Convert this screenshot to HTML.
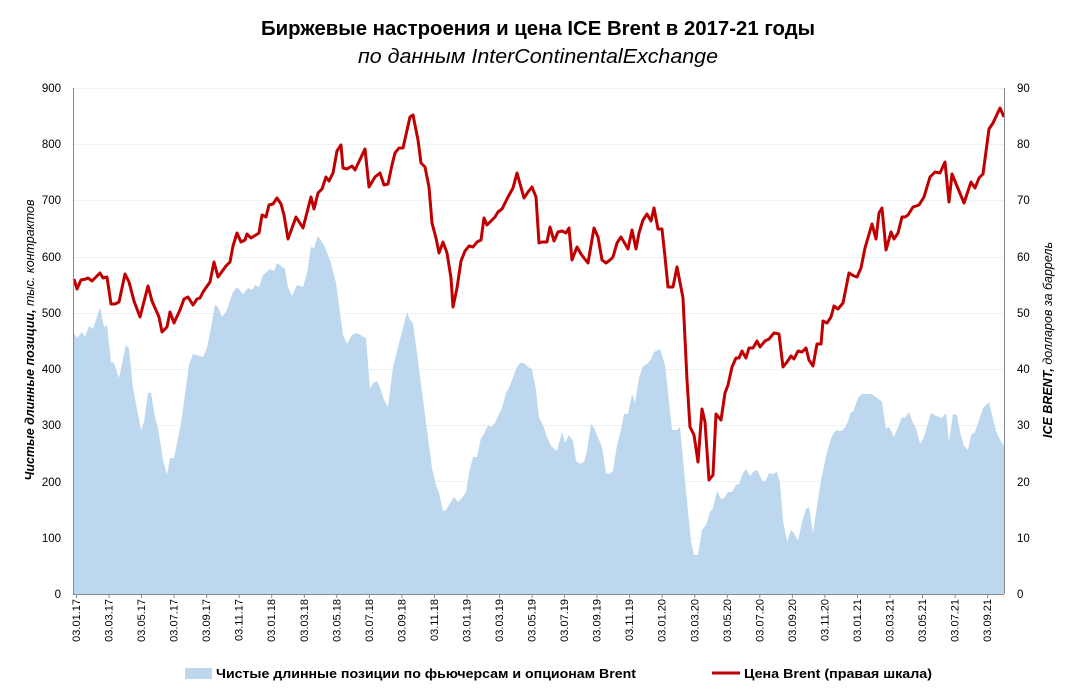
<!DOCTYPE html>
<html><head><meta charset="utf-8"><style>
html,body{margin:0;padding:0;background:#fff;}
svg{display:block;font-family:"Liberation Sans",sans-serif;}
</style></head><body>
<svg width="1077" height="700" viewBox="0 0 1077 700" xmlns="http://www.w3.org/2000/svg">
<rect width="1077" height="700" fill="#fff"/>
<text x="538" y="35" text-anchor="middle" font-size="20" font-weight="bold" textLength="554" lengthAdjust="spacingAndGlyphs">Биржевые настроения и цена ICE Brent в 2017-21 годы</text>
<text x="538" y="63" text-anchor="middle" font-size="20" font-style="italic" textLength="360" lengthAdjust="spacingAndGlyphs">по данным InterContinentalExchange</text>
<g stroke="#eef2f7" stroke-width="1">
<line x1="73" x2="1004" y1="88.5" y2="88.5"/><line x1="73" x2="1004" y1="144.5" y2="144.5"/><line x1="73" x2="1004" y1="200.5" y2="200.5"/><line x1="73" x2="1004" y1="257.5" y2="257.5"/><line x1="73" x2="1004" y1="313.5" y2="313.5"/><line x1="73" x2="1004" y1="369.5" y2="369.5"/><line x1="73" x2="1004" y1="425.5" y2="425.5"/><line x1="73" x2="1004" y1="481.5" y2="481.5"/><line x1="73" x2="1004" y1="538.5" y2="538.5"/>
</g>
<polygon fill="#bdd7ee" points="74,594 74,333 77,338 82,332 85,337 89,326 93,329 100,307 104,327 107,325 111,362 114,363 119,378 126,345 129,349 133,388 141,430 144,422 148,393 151,393 155,417 158,428 163,460 167,475 170,458 174,458 181,423 189,365 193,354 203,357 207,348 211,328 215,305 218,307 222,317 226,312 233,292 237,287 243,294 248,288 252,290 255,285 259,287 263,275 270,269 274,271 277,263 285,269 288,287 292,296 297,285 303,287 307,273 311,247 314,248 318,236 325,247 331,263 336,283 343,335 347,344 352,335 357,333 362,336 366,338 370,389 373,383 377,381 380,388 384,400 388,407 393,367 396,355 407,312 410,320 413,323 422,392 432,468 436,485 439,493 443,511 446,510 454,497 458,502 462,498 466,492 469,473 473,457 477,457 481,438 484,434 488,425 491,427 495,423 502,408 506,393 509,388 517,367 520,363 524,363 528,367 532,369 536,390 539,418 543,425 547,437 551,446 557,451 562,432 565,443 569,435 573,441 576,461 580,464 584,462 587,451 591,424 594,428 602,447 606,473 609,474 613,471 617,445 621,430 624,414 628,414 632,394 635,403 639,378 643,366 647,364 651,359 654,352 660,349 665,365 668,392 672,430 677,430 680,427 684,470 691,542 694,555 698,555 702,530 706,525 710,512 713,508 717,491 721,499 724,498 728,492 732,492 736,485 739,484 742,475 746,469 750,476 754,471 757,470 762,480 765,482 769,473 773,474 777,472 780,483 783,520 787,542 791,530 794,533 798,541 802,522 806,509 809,507 813,533 817,506 821,480 827,452 832,436 836,430 840,431 843,430 847,424 851,412 853,412 858,398 862,394 871,394 876,397 882,402 886,429 889,427 894,437 902,417 905,418 909,412 913,423 916,428 920,444 924,437 931,413 936,416 942,418 946,413 949,442 953,414 957,415 960,432 964,446 968,450 971,435 975,432 978,423 983,408 989,402 992,415 996,431 999,438 1004,446 1004,594"/>
<polyline fill="none" stroke="#c00000" stroke-width="3" stroke-linejoin="round" points="74,279 77,289 81,280 86,279 88,278 92,281 100,273 103,278 107,277 111,304 115,304 119,302 125,274 129,282 134,301 140,317 148,286 152,301 159,317 162,332 167,327 170,312 174,323 180,310 184,299 188,297 193,305 197,299 200,298 203,292 210,282 214,262 218,277 226,266 230,262 233,246 237,233 241,242 245,240 247,234 251,238 259,233 262,215 266,217 269,205 273,204 277,198 281,204 284,215 288,239 296,217 303,228 311,197 314,209 318,193 322,189 326,177 329,181 333,173 337,151 341,145 343,168 347,169 352,166 355,170 365,149 369,187 375,177 380,173 384,185 388,184 392,165 395,153 399,148 403,148 410,117 413,115 418,140 421,163 425,167 429,187 432,223 436,238 439,253 443,242 447,253 451,278 453,307 457,288 461,261 465,251 469,246 473,247 477,242 481,240 484,218 487,225 495,217 498,212 502,209 508,197 513,188 517,173 524,198 528,192 532,187 536,197 539,243 542,242 547,242 550,227 554,241 558,232 562,231 566,233 569,228 572,260 577,247 581,254 584,258 588,263 594,228 598,237 602,260 606,263 610,260 613,257 617,243 621,237 624,242 628,249 632,230 636,249 639,233 643,220 647,214 651,221 654,208 658,229 662,229 665,257 668,287 673,287 677,267 683,298 687,380 690,427 694,435 698,462 702,409 705,422 709,480 713,475 716,414 721,420 725,393 728,385 732,367 736,358 739,358 742,351 746,358 749,348 753,348 757,341 760,347 765,341 769,339 774,333 779,334 783,367 787,362 791,356 794,359 798,351 802,352 806,348 809,360 813,366 817,344 821,344 823,321 827,323 831,317 834,306 838,309 843,303 849,273 854,276 857,277 861,268 865,248 872,224 876,239 879,213 882,208 886,250 891,232 894,239 898,233 902,217 905,217 908,215 913,207 919,205 924,197 930,177 935,172 940,173 945,162 949,202 952,174 964,203 971,182 975,188 979,178 983,174 989,129 993,123 1000,108 1004,117"/>
<g stroke="#888" stroke-width="1">
<line x1="73.5" y1="88" x2="73.5" y2="594"/><line x1="1004.5" y1="88" x2="1004.5" y2="594"/><line x1="73" y1="594.5" x2="1004" y2="594.5"/>
<line x1="76.5" y1="594" x2="76.5" y2="598"/><line x1="109" y1="594" x2="109" y2="598"/><line x1="141.6" y1="594" x2="141.6" y2="598"/><line x1="174.1" y1="594" x2="174.1" y2="598"/><line x1="206.7" y1="594" x2="206.7" y2="598"/><line x1="239.2" y1="594" x2="239.2" y2="598"/><line x1="271.7" y1="594" x2="271.7" y2="598"/><line x1="304.3" y1="594" x2="304.3" y2="598"/><line x1="336.8" y1="594" x2="336.8" y2="598"/><line x1="369.4" y1="594" x2="369.4" y2="598"/><line x1="401.9" y1="594" x2="401.9" y2="598"/><line x1="434.4" y1="594" x2="434.4" y2="598"/><line x1="467" y1="594" x2="467" y2="598"/><line x1="499.5" y1="594" x2="499.5" y2="598"/><line x1="532.1" y1="594" x2="532.1" y2="598"/><line x1="564.6" y1="594" x2="564.6" y2="598"/><line x1="597.1" y1="594" x2="597.1" y2="598"/><line x1="629.7" y1="594" x2="629.7" y2="598"/><line x1="662.2" y1="594" x2="662.2" y2="598"/><line x1="694.8" y1="594" x2="694.8" y2="598"/><line x1="727.3" y1="594" x2="727.3" y2="598"/><line x1="759.8" y1="594" x2="759.8" y2="598"/><line x1="792.4" y1="594" x2="792.4" y2="598"/><line x1="824.9" y1="594" x2="824.9" y2="598"/><line x1="857.5" y1="594" x2="857.5" y2="598"/><line x1="890" y1="594" x2="890" y2="598"/><line x1="922.5" y1="594" x2="922.5" y2="598"/><line x1="955.1" y1="594" x2="955.1" y2="598"/><line x1="987.6" y1="594" x2="987.6" y2="598"/>
</g>
<g font-size="11.5" fill="#000" text-anchor="end">
<text x="61" y="598">0</text><text x="61" y="542">100</text><text x="61" y="486">200</text><text x="61" y="429">300</text><text x="61" y="373">400</text><text x="61" y="317">500</text><text x="61" y="261">600</text><text x="61" y="204">700</text><text x="61" y="148">800</text><text x="61" y="92">900</text>
</g>
<g font-size="11.5" fill="#000" text-anchor="start">
<text x="1017" y="598">0</text><text x="1017" y="542">10</text><text x="1017" y="486">20</text><text x="1017" y="429">30</text><text x="1017" y="373">40</text><text x="1017" y="317">50</text><text x="1017" y="261">60</text><text x="1017" y="204">70</text><text x="1017" y="148">80</text><text x="1017" y="92">90</text>
</g>
<g font-size="11" fill="#000" text-anchor="end">
<text transform="translate(80,599) rotate(-90)">03.01.17</text>
<text transform="translate(112.5,599) rotate(-90)">03.03.17</text>
<text transform="translate(145.1,599) rotate(-90)">03.05.17</text>
<text transform="translate(177.6,599) rotate(-90)">03.07.17</text>
<text transform="translate(210.2,599) rotate(-90)">03.09.17</text>
<text transform="translate(242.7,599) rotate(-90)">03.11.17</text>
<text transform="translate(275.2,599) rotate(-90)">03.01.18</text>
<text transform="translate(307.8,599) rotate(-90)">03.03.18</text>
<text transform="translate(340.3,599) rotate(-90)">03.05.18</text>
<text transform="translate(372.9,599) rotate(-90)">03.07.18</text>
<text transform="translate(405.4,599) rotate(-90)">03.09.18</text>
<text transform="translate(437.9,599) rotate(-90)">03.11.18</text>
<text transform="translate(470.5,599) rotate(-90)">03.01.19</text>
<text transform="translate(503,599) rotate(-90)">03.03.19</text>
<text transform="translate(535.6,599) rotate(-90)">03.05.19</text>
<text transform="translate(568.1,599) rotate(-90)">03.07.19</text>
<text transform="translate(600.6,599) rotate(-90)">03.09.19</text>
<text transform="translate(633.2,599) rotate(-90)">03.11.19</text>
<text transform="translate(665.7,599) rotate(-90)">03.01.20</text>
<text transform="translate(698.3,599) rotate(-90)">03.03.20</text>
<text transform="translate(730.8,599) rotate(-90)">03.05.20</text>
<text transform="translate(763.3,599) rotate(-90)">03.07.20</text>
<text transform="translate(795.9,599) rotate(-90)">03.09.20</text>
<text transform="translate(828.4,599) rotate(-90)">03.11.20</text>
<text transform="translate(861,599) rotate(-90)">03.01.21</text>
<text transform="translate(893.5,599) rotate(-90)">03.03.21</text>
<text transform="translate(926,599) rotate(-90)">03.05.21</text>
<text transform="translate(958.6,599) rotate(-90)">03.07.21</text>
<text transform="translate(991.1,599) rotate(-90)">03.09.21</text>
</g>
<text transform="translate(34,340) rotate(-90)" text-anchor="middle" font-size="12.5" font-style="italic"><tspan font-weight="bold">Чистые длинные позиции,</tspan> тыс. контрактов</text>
<text transform="translate(1052,340) rotate(-90)" text-anchor="middle" font-size="12.5" font-style="italic"><tspan font-weight="bold">ICE BRENT,</tspan> долларов за баррель</text>
<rect x="185" y="668" width="27" height="11" fill="#bdd7ee"/>
<text x="216" y="678" font-size="13" font-weight="bold" textLength="420" lengthAdjust="spacingAndGlyphs">Чистые длинные позиции по фьючерсам и опционам Brent</text>
<line x1="712" y1="673" x2="740" y2="673" stroke="#c00000" stroke-width="3"/>
<text x="744" y="678" font-size="13" font-weight="bold" textLength="188" lengthAdjust="spacingAndGlyphs">Цена Brent (правая шкала)</text>
</svg>
</body></html>
